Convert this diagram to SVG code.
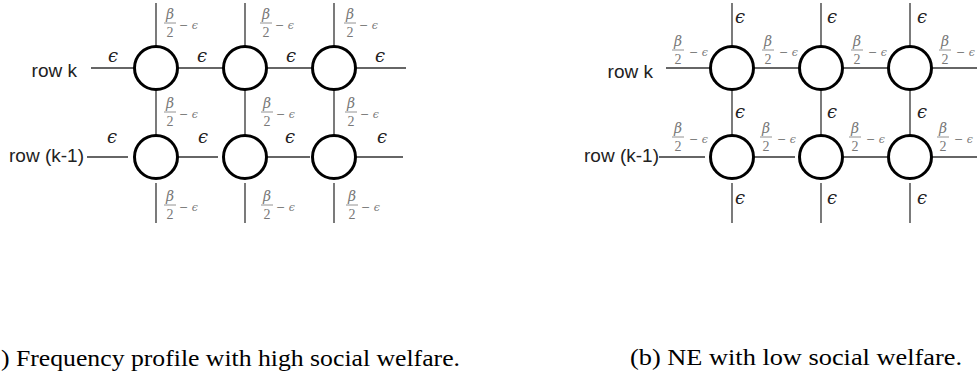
<svg xmlns="http://www.w3.org/2000/svg" width="977" height="376" viewBox="0 0 977 376">
<style>
.node{fill:#fff;stroke:#000;stroke-width:3}
.edge{stroke:#333;stroke-width:1.3;fill:none}
.fb{stroke:#777;stroke-width:0.8}
.row{font-family:'Liberation Sans',Arial,sans-serif;font-size:19px;fill:#222}
.eps{font-family:'DejaVu Serif',serif;font-style:italic;font-size:18px;fill:#222;text-anchor:middle}
.fn{font-family:'DejaVu Serif',serif;font-style:italic;font-size:14px;fill:#777;text-anchor:middle}
.fd{font-family:'Liberation Serif',serif;font-size:14px;fill:#777;text-anchor:middle}
.fm{font-family:'DejaVu Serif',serif;font-size:11px;fill:#777}
.fm tspan{font-style:italic}
.cap{font-size:23px;fill:#000}
</style>
<rect width="977" height="376" fill="#fff"/>

<g id="connectors">
  <line class="edge" x1="91" y1="68" x2="134" y2="68"/>
  <line class="edge" x1="178" y1="68" x2="223" y2="68"/>
  <line class="edge" x1="267" y1="68" x2="312" y2="68"/>
  <line class="edge" x1="356" y1="68" x2="406" y2="68"/>
  <line class="edge" x1="87" y1="157" x2="128" y2="157"/>
  <line class="edge" x1="178" y1="157" x2="218" y2="157"/>
  <line class="edge" x1="267" y1="157" x2="310" y2="157"/>
  <line class="edge" x1="356" y1="157" x2="403" y2="157"/>
  <line class="edge" x1="156" y1="3" x2="156" y2="46"/>
  <line class="edge" x1="245" y1="3" x2="245" y2="46"/>
  <line class="edge" x1="334" y1="3" x2="334" y2="46"/>
  <line class="edge" x1="156" y1="90" x2="156" y2="135"/>
  <line class="edge" x1="245" y1="90" x2="245" y2="135"/>
  <line class="edge" x1="334" y1="90" x2="334" y2="135"/>
  <line class="edge" x1="156" y1="183" x2="156" y2="223"/>
  <line class="edge" x1="245" y1="183" x2="245" y2="223"/>
  <line class="edge" x1="334" y1="183" x2="334" y2="223"/>
  <line class="edge" x1="666" y1="68" x2="710" y2="68"/>
  <line class="edge" x1="754" y1="68" x2="799" y2="68"/>
  <line class="edge" x1="843" y1="68" x2="888" y2="68"/>
  <line class="edge" x1="932" y1="68" x2="977" y2="68"/>
  <line class="edge" x1="659" y1="157" x2="705" y2="157"/>
  <line class="edge" x1="754" y1="157" x2="795" y2="157"/>
  <line class="edge" x1="843" y1="157" x2="887" y2="157"/>
  <line class="edge" x1="932" y1="157" x2="977" y2="157"/>
  <line class="edge" x1="732" y1="3" x2="732" y2="46"/>
  <line class="edge" x1="821" y1="3" x2="821" y2="46"/>
  <line class="edge" x1="910" y1="3" x2="910" y2="46"/>
  <line class="edge" x1="732" y1="90" x2="732" y2="135"/>
  <line class="edge" x1="821" y1="90" x2="821" y2="135"/>
  <line class="edge" x1="910" y1="90" x2="910" y2="135"/>
  <line class="edge" x1="732" y1="183" x2="732" y2="223"/>
  <line class="edge" x1="821" y1="183" x2="821" y2="223"/>
  <line class="edge" x1="910" y1="183" x2="910" y2="223"/>
</g>

<g id="a-k-1"><circle class="node" cx="156" cy="68" r="21.5"/></g>
<g id="a-k-2"><circle class="node" cx="245" cy="68" r="21.5"/></g>
<g id="a-k-3"><circle class="node" cx="334" cy="68" r="21.5"/></g>
<g id="a-km1-1"><circle class="node" cx="156" cy="157" r="21.5"/></g>
<g id="a-km1-2"><circle class="node" cx="245" cy="157" r="21.5"/></g>
<g id="a-km1-3"><circle class="node" cx="334" cy="157" r="21.5"/></g>
<g id="b-k-1"><circle class="node" cx="732" cy="68" r="21.5"/></g>
<g id="b-k-2"><circle class="node" cx="821" cy="68" r="21.5"/></g>
<g id="b-k-3"><circle class="node" cx="910" cy="68" r="21.5"/></g>
<g id="b-km1-1"><circle class="node" cx="732" cy="157" r="21.5"/></g>
<g id="b-km1-2"><circle class="node" cx="821" cy="157" r="21.5"/></g>
<g id="b-km1-3"><circle class="node" cx="910" cy="157" r="21.5"/></g>

<g id="row-labels">
  <text class="row" x="77" y="77" text-anchor="end">row k</text>
  <text class="row" x="84" y="162" text-anchor="end">row (k-1)</text>
  <text class="row" x="653" y="78" text-anchor="end">row k</text>
  <text class="row" x="659" y="162" text-anchor="end">row (k-1)</text>
</g>

<g id="a-eps">
  <text class="eps" x="113" y="62">ϵ</text>
  <text class="eps" x="202" y="62">ϵ</text>
  <text class="eps" x="291" y="62">ϵ</text>
  <text class="eps" x="380" y="62">ϵ</text>
  <text class="eps" x="112" y="143">ϵ</text>
  <text class="eps" x="203" y="143">ϵ</text>
  <text class="eps" x="290" y="143">ϵ</text>
  <text class="eps" x="382" y="143">ϵ</text>
</g>

<g id="a-frac">
  <text class="fn" x="170" y="19">β</text><line class="fb" x1="164" y1="23" x2="176" y2="23"/><text class="fd" x="170" y="37">2</text><text class="fm" x="179" y="28.5">− <tspan>ϵ</tspan></text>
  <text class="fn" x="266" y="19">β</text><line class="fb" x1="260" y1="23" x2="272" y2="23"/><text class="fd" x="266" y="37">2</text><text class="fm" x="275" y="28.5">− <tspan>ϵ</tspan></text>
  <text class="fn" x="350" y="19">β</text><line class="fb" x1="344" y1="23" x2="356" y2="23"/><text class="fd" x="350" y="37">2</text><text class="fm" x="359" y="28.5">− <tspan>ϵ</tspan></text>
  <text class="fn" x="170" y="108">β</text><line class="fb" x1="164" y1="112" x2="176" y2="112"/><text class="fd" x="170" y="126">2</text><text class="fm" x="179" y="117.5">− <tspan>ϵ</tspan></text>
  <text class="fn" x="267" y="108">β</text><line class="fb" x1="261" y1="112" x2="273" y2="112"/><text class="fd" x="267" y="126">2</text><text class="fm" x="276" y="117.5">− <tspan>ϵ</tspan></text>
  <text class="fn" x="351" y="108">β</text><line class="fb" x1="345" y1="112" x2="357" y2="112"/><text class="fd" x="351" y="126">2</text><text class="fm" x="360" y="117.5">− <tspan>ϵ</tspan></text>
  <text class="fn" x="170" y="201">β</text><line class="fb" x1="164" y1="205" x2="176" y2="205"/><text class="fd" x="170" y="219">2</text><text class="fm" x="179" y="210.5">− <tspan>ϵ</tspan></text>
  <text class="fn" x="267" y="201">β</text><line class="fb" x1="261" y1="205" x2="273" y2="205"/><text class="fd" x="267" y="219">2</text><text class="fm" x="276" y="210.5">− <tspan>ϵ</tspan></text>
  <text class="fn" x="352" y="201">β</text><line class="fb" x1="346" y1="205" x2="358" y2="205"/><text class="fd" x="352" y="219">2</text><text class="fm" x="361" y="210.5">− <tspan>ϵ</tspan></text>
</g>

<g id="b-eps">
  <text class="eps" x="740" y="23">ϵ</text>
  <text class="eps" x="832" y="23">ϵ</text>
  <text class="eps" x="922" y="23">ϵ</text>
  <text class="eps" x="740" y="118">ϵ</text>
  <text class="eps" x="832" y="118">ϵ</text>
  <text class="eps" x="922" y="118">ϵ</text>
  <text class="eps" x="740" y="204">ϵ</text>
  <text class="eps" x="832" y="204">ϵ</text>
  <text class="eps" x="922" y="204">ϵ</text>
</g>

<g id="b-frac">
  <text class="fn" x="678" y="46">β</text><line class="fb" x1="672" y1="50" x2="684" y2="50"/><text class="fd" x="678" y="64">2</text><text class="fm" x="689" y="55.5">− <tspan>ϵ</tspan></text>
  <text class="fn" x="768" y="46">β</text><line class="fb" x1="762" y1="50" x2="774" y2="50"/><text class="fd" x="768" y="64">2</text><text class="fm" x="779" y="55.5">− <tspan>ϵ</tspan></text>
  <text class="fn" x="857" y="46">β</text><line class="fb" x1="851" y1="50" x2="863" y2="50"/><text class="fd" x="857" y="64">2</text><text class="fm" x="868" y="55.5">− <tspan>ϵ</tspan></text>
  <text class="fn" x="945" y="46">β</text><line class="fb" x1="939" y1="50" x2="951" y2="50"/><text class="fd" x="945" y="64">2</text><text class="fm" x="956" y="55.5">− <tspan>ϵ</tspan></text>
  <text class="fn" x="678" y="133">β</text><line class="fb" x1="672" y1="137" x2="684" y2="137"/><text class="fd" x="678" y="151">2</text><text class="fm" x="689" y="142.5">− <tspan>ϵ</tspan></text>
  <text class="fn" x="766" y="133">β</text><line class="fb" x1="760" y1="137" x2="772" y2="137"/><text class="fd" x="766" y="151">2</text><text class="fm" x="777" y="142.5">− <tspan>ϵ</tspan></text>
  <text class="fn" x="855" y="133">β</text><line class="fb" x1="849" y1="137" x2="861" y2="137"/><text class="fd" x="855" y="151">2</text><text class="fm" x="866" y="142.5">− <tspan>ϵ</tspan></text>
  <text class="fn" x="943" y="133">β</text><line class="fb" x1="937" y1="137" x2="949" y2="137"/><text class="fd" x="943" y="151">2</text><text class="fm" x="954" y="142.5">− <tspan>ϵ</tspan></text>
</g>

<g id="captions">
  <text class="cap" font-family="Liberation Serif, serif" x="1" y="366" textLength="459" lengthAdjust="spacingAndGlyphs">) Frequency profile with high social welfare.</text>
  <text class="cap" font-family="Liberation Serif, serif" x="630" y="365" textLength="332" lengthAdjust="spacingAndGlyphs">(b) NE with low social welfare.</text>
</g>
</svg>
